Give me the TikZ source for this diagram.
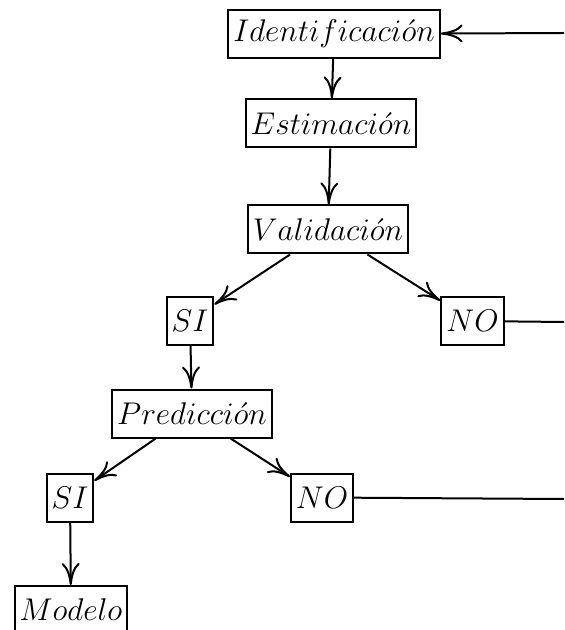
\documentclass[tikz,border=0pt]{standalone}
\usepackage{graphicx}
\usetikzlibrary{arrows.meta}
\newcommand{\bt}[1]{\scalebox{1.09}{$#1$}}
\begin{document}
\begin{tikzpicture}[x=0.5pt,y=-0.5pt,
  box/.style={draw,line width=1pt,inner xsep=2.5pt,inner ysep=0pt,minimum height=24pt,minimum width=23pt,font=\fontsize{14.4}{17}\selectfont},
  arr/.style={line width=1pt,-{To[length=11pt,width=9pt]}},
  ln/.style={line width=1pt}]
\useasboundingbox (0,0) rectangle (564,630);
\clip (0,0) rectangle (564,630);
\node[box] (ide) at (334,34) {\bt{Identificaci\acute{o}n}};
\node[box] (est) at (331,123.5) {\bt{Estimaci\acute{o}n}};
\node[box] (val) at (328,229.5) {\bt{Validaci\acute{o}n}};
\node[box] (si1) at (190,320.5) {\bt{SI}};
\node[box] (no1) at (472.5,321) {\bt{NO}};
\node[box] (pre) at (192,413.5) {\bt{Predicci\acute{o}n}};
\node[box] (si2) at (70,497.5) {\bt{SI}};
\node[box] (no2) at (322,497.5) {\bt{NO}};
\node[box] (mod) at (71,610) {\bt{Modelo}};
\coordinate (r0) at (564,33);
\coordinate (r1) at (564,322);
\coordinate (r2) at (564,499);
\draw[arr] (r0) -- (ide);
\draw[arr] (ide) -- (est);
\draw[arr] (est) -- (val);
\draw[arr] (val) -- (si1);
\draw[arr] (val) -- (no1);
\draw[ln] (no1) -- (r1);
\draw[arr] (si1) -- (pre);
\draw[arr] (pre) -- (si2);
\draw[arr] (pre) -- (no2);
\draw[ln] (no2) -- (r2);
\draw[arr] (si2) -- (mod);
\end{tikzpicture}
\end{document}
